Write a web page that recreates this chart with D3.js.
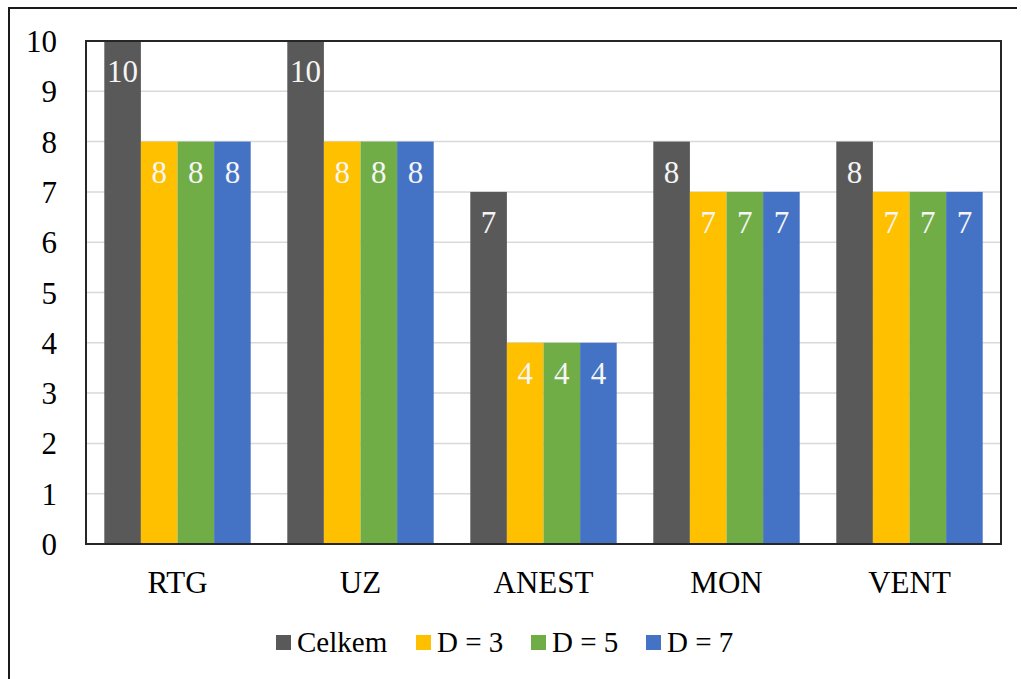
<!DOCTYPE html>
<html>
<head>
<meta charset="utf-8">
<script src="https://cdn.jsdelivr.net/npm/d3@7"></script>
<style>
  body { margin: 0; background: #fff; }
  svg text { font-family: 'Times New Roman', 'Liberation Serif', 'DejaVu Serif', serif !important; }
</style>
</head>
<body>
<div class="chart"></div>
<script>
// chart data
const categories = ['RTG', 'UZ', 'ANEST', 'MON', 'VENT'];
const seriesNames = ['Celkem', 'D = 3', 'D = 5', 'D = 7'];
const celkem = [10, 10, 7, 8, 8];
const d3Values = [8, 8, 4, 7, 7];
const d5Values = [8, 8, 4, 7, 7];
const d7Values = [8, 8, 4, 7, 7];
const yTicks = [0, 1, 2, 3, 4, 5, 6, 7, 8, 9, 10];
const colors = ['#595959', '#FFC000', '#70AD47', '#4472C4'];

const seriesValues = [celkem, d3Values, d5Values, d7Values];

const W = 1021, H = 679;
const margin = {top: 41, right: 20, bottom: 135, left: 86};
const width = 1001 - margin.left;
const height = 544 - margin.top;
const serif = "'Times New Roman', 'Liberation Serif', 'DejaVu Serif', serif";

const svg = d3.select('.chart')
  .append('svg')
  .attr('width', W)
  .attr('height', H)
  .attr('font-family', serif);

// outer frame (only top and left edges visible)
svg.append('path')
  .attr('d', `M9,${H} L9,8 L1017,8`)
  .attr('fill', 'none')
  .attr('stroke', '#1a1a1a')
  .attr('stroke-width', 2);

const g = svg.append('g')
  .attr('transform', `translate(${margin.left}, ${margin.top})`);

const xScale = d3.scaleBand()
  .domain(categories)
  .range([0, width]);

const xInner = d3.scaleBand()
  .domain(seriesNames)
  .range([0, xScale.bandwidth()])
  .paddingOuter(0.5)
  .paddingInner(0);

const yScale = d3.scaleLinear()
  .domain([0, 10])
  .range([height, 0]);

// gridlines
g.selectAll('.grid')
  .data(yTicks.filter(d => d > 0 && d < 10))
  .join('line')
  .attr('class', 'grid')
  .attr('x1', 0)
  .attr('x2', width)
  .attr('y1', d => yScale(d))
  .attr('y2', d => yScale(d))
  .attr('stroke', '#d9d9d9')
  .attr('stroke-width', 1.5);

// bars
const rows = categories.map((c, i) => ({
  category: c,
  values: seriesNames.map((s, j) => ({series: s, value: seriesValues[j][i], color: colors[j]}))
}));

const groups = g.selectAll('.cat')
  .data(rows)
  .join('g')
  .attr('class', 'cat')
  .attr('transform', d => `translate(${xScale(d.category)}, 0)`);

groups.selectAll('rect')
  .data(d => d.values)
  .join('rect')
  .attr('x', d => xInner(d.series))
  .attr('y', d => yScale(d.value))
  .attr('width', xInner.bandwidth())
  .attr('height', d => height - yScale(d.value))
  .attr('fill', d => d.color);

// data labels inside bar top
groups.selectAll('.lbl')
  .data(d => d.values)
  .join('text')
  .attr('class', 'lbl')
  .attr('x', d => xInner(d.series) + xInner.bandwidth() / 2)
  .attr('y', d => yScale(d.value) + 41)
  .attr('text-anchor', 'middle')
  .attr('fill', '#f5f5f5')
  .style('font-size', '31px')
  .text(d => d.value);

// plot border
g.append('rect')
  .attr('x', 0)
  .attr('y', 0)
  .attr('width', width)
  .attr('height', height)
  .attr('fill', 'none')
  .attr('stroke', '#262626')
  .attr('stroke-width', 2);

// y axis
const yAxis = d3.axisLeft(yScale)
  .tickValues(yTicks)
  .tickSize(0)
  .tickPadding(29);

g.append('g')
  .attr('class', 'y axis')
  .call(yAxis)
  .attr('font-family', serif)
  .call(a => a.select('.domain').remove())
  .selectAll('text')
  .style('font-size', '31px')
  .attr('fill', '#000')
  .attr('dy', '0.34em');

// x axis
const xAxis = d3.axisBottom(xScale)
  .tickSize(0)
  .tickPadding(27);

g.append('g')
  .attr('class', 'x axis')
  .attr('transform', `translate(0, ${height})`)
  .call(xAxis)
  .attr('font-family', serif)
  .call(a => a.select('.domain').remove())
  .selectAll('text')
  .style('font-size', '31px')
  .attr('fill', '#000');

// legend
const legendX = [276, 416, 531, 646];
const legend = svg.append('g').attr('class', 'legend');
const items = legend.selectAll('g')
  .data(seriesNames)
  .join('g')
  .attr('transform', (d, i) => `translate(${legendX[i]}, 635)`);

items.append('rect')
  .attr('width', 15)
  .attr('height', 15)
  .attr('fill', (d, i) => colors[i]);

items.append('text')
  .attr('x', 21)
  .attr('y', 17)
  .style('font-size', '29px')
  .attr('fill', '#000')
  .text(d => d);
</script>
</body>
</html>
